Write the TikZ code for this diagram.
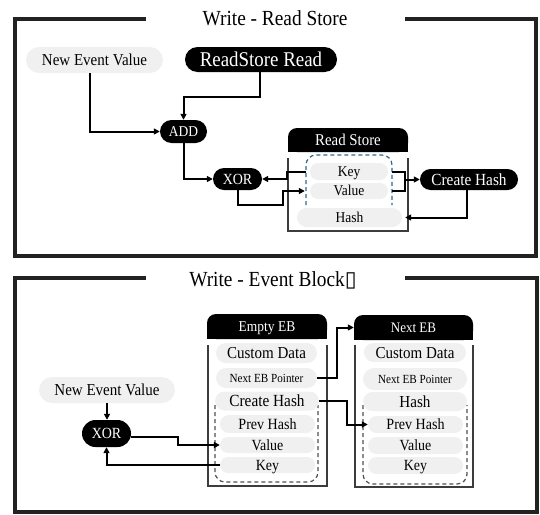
\documentclass[tikz,border=0pt]{standalone}
\usepackage{fontspec}
\setmainfont{Liberation Serif}[FakeStretch=0.9]
\newfontfamily\boxglyph{DejaVu Sans}
\usetikzlibrary{arrows.meta,calc}
\definecolor{pillgray}{RGB}{240,240,240}
\definecolor{framec}{RGB}{34,34,34}
\definecolor{dashblue}{RGB}{50,105,140}
\definecolor{dashgray}{RGB}{80,80,80}
\definecolor{bodyc}{RGB}{60,60,60}
\newcommand{\fsz}[1]{\fontsize{#1}{#1}\selectfont}
\begin{document}
\begin{tikzpicture}[x=1pt,y=-1pt,
  fs/.style={node font=\fsz{#1}},
  pill/.style={fill=pillgray, rounded corners=8pt, inner sep=0pt, text height=0.66em, text depth=0pt},
  bpill/.style={fill=black, text=white, inner sep=0pt, text height=0.66em, text depth=0pt},
  hdr/.style={inner sep=0pt, text=white, text height=0.66em, text depth=0pt},
  ttl/.style={inner sep=0pt, text height=0.66em, text depth=0pt},
  frame/.style={draw=framec, line width=4pt},
  conn/.style={draw=black, line width=2pt},
  arr/.style={conn, -{Triangle[length=6pt,width=6pt]}},
  body/.style={draw=bodyc, line width=1.5pt},
  hdrfill/.style={fill=black, rounded corners=9pt},
  dashb/.style={draw=dashblue, line width=1.2pt, dash pattern=on 4pt off 3pt, rounded corners=10pt},
  dashg/.style={draw=dashgray, line width=1.2pt, dash pattern=on 4pt off 3pt, rounded corners=10pt},
]
\useasboundingbox (0,0) rectangle (540,514);

% ---------- frames ----------
\draw[frame] (146,19) -- (15,19) -- (15,256) -- (536,256) -- (536,19) -- (405,19);
\draw[frame] (146,278) -- (15,278) -- (15,512) -- (537,512) -- (537,278) -- (405,278);
\node[fs=21.5, ttl] (t1) at (275,18) {Write - Read Store};
\node[fs=21.5, ttl] (t2) at (273,279.5) {Write - Event Block{\boxglyph ▯}};

% ---------- top section ----------
\node[fs=16.7, pill, minimum width=137pt, minimum height=26pt, rounded corners=13pt] (nev1) at (94.5,60) {New Event Value};
\node[fs=21, bpill, minimum width=152pt, minimum height=25pt, rounded corners=12.5pt] (rsr) at (261,59.5) {ReadStore Read};
\node[fs=15, bpill, minimum width=47pt, minimum height=23pt, rounded corners=11.5pt] (add) at (183.5,131.5) {ADD};
\node[fs=15.5, bpill, minimum width=49pt, minimum height=22pt, rounded corners=11pt] (xor1) at (237.5,179) {XOR};

\fill[hdrfill] (288,128) rectangle (408,152);
\fill[black] (288,141) rectangle (408,152);
\node[fs=16.5, hdr, minimum width=120pt, minimum height=24pt] (rsh) at (348,140) {Read Store};
\draw[body] (288,158) -- (288,231) -- (408,231) -- (408,158);
\draw[dashb] (306,205) -- (306,155) -- (392,155) -- (392,205);
\node[fs=15, pill, minimum width=78pt, minimum height=17pt] (key1) at (349,171.5) {Key};
\node[fs=15, pill, minimum width=78pt, minimum height=16pt] (val1) at (349,191) {Value};
\node[fs=15, pill, minimum width=105pt, minimum height=19pt, rounded corners=9.5pt] (hash1) at (349.5,217.5) {Hash};
\node[fs=17, bpill, minimum width=98pt, minimum height=21pt, rounded corners=10.5pt] (ch1) at (469,179.5) {Create Hash};

\draw[arr] ([xshift=-5pt]nev1.south) |- (add.west);
\draw[arr] ([xshift=-1pt]rsr.south) -- ++(0,25) -| (add.north);
\draw[arr] (add.south) |- (xor1.west);
\coordinate (b1) at (283,205);
\draw[arr] (xor1.south) |- (b1) |- ([xshift=-5pt]val1.west);
\draw[arr] ([xshift=-4pt]key1.west) -| ($(xor1.east)+(25,0)$) -- (xor1.east);
\coordinate (j1) at (405,179.5);
\draw[conn] ([xshift=4pt]key1.east) -| (j1) |- ([xshift=4pt]val1.east);
\draw[arr] (j1) -- (ch1.west);
\draw[arr] ([xshift=-2pt]ch1.south) |- ([xshift=3pt]hash1.east);

% ---------- bottom section ----------
\node[fs=16.7, pill, minimum width=136pt, minimum height=26pt, rounded corners=13pt] (nev2) at (107,390) {New Event Value};
\node[fs=15.5, bpill, minimum width=49pt, minimum height=27pt, rounded corners=13.5pt] (xor2) at (106.5,433.5) {XOR};

% Empty EB
\fill[hdrfill] (207,314) rectangle (327,339);
\fill[black] (207,327) rectangle (327,339);
\node[fs=15, hdr, minimum width=120pt, minimum height=25pt] (eeb) at (267,326.5) {Empty EB};
\draw[body] (208,345) -- (208,486) -- (327,486) -- (327,345);
\draw[dashg] (215,405) -- (215,482) -- (318,482) -- (318,405);
\node[fs=16.7, pill, minimum width=101pt, minimum height=20pt, rounded corners=10pt] (cd2) at (266.5,353) {Custom Data};
\node[fs=12.4, pill, minimum width=101pt, minimum height=20pt, rounded corners=10pt] (nep2) at (266.5,378) {Next EB Pointer};
\node[fs=17, pill, minimum width=104pt, minimum height=19pt, rounded corners=9.5pt] (chp2) at (267,401) {Create Hash};
\node[fs=15.6, pill, minimum width=95pt, minimum height=18pt, rounded corners=9pt] (ph2) at (267.5,424) {Prev Hash};
\node[fs=15.5, pill, minimum width=95pt, minimum height=16pt] (val2) at (267.5,445) {Value};
\node[fs=15.5, pill, minimum width=95pt, minimum height=16pt] (key2) at (267.5,465) {Key};

% Next EB
\fill[hdrfill] (354,315) rectangle (473,340);
\fill[black] (354,328) rectangle (473,340);
\node[fs=14.5, hdr, minimum width=119pt, minimum height=25pt] (neb) at (413.5,327.5) {Next EB};
\draw[body] (355,345) -- (355,487) -- (473,487) -- (473,345);
\draw[dashg] (363,405) -- (363,484) -- (467,484) -- (467,405);
\node[fs=16.7, pill, minimum width=102pt, minimum height=19pt, rounded corners=9.5pt] (cd3) at (415,352.5) {Custom Data};
\node[fs=12.4, pill, minimum width=104pt, minimum height=22pt, rounded corners=11pt] (nep3) at (415,379) {Next EB Pointer};
\node[fs=16.8, pill, minimum width=104pt, minimum height=19pt, rounded corners=9.5pt] (h3) at (415,401.5) {Hash};
\node[fs=15.6, pill, minimum width=95pt, minimum height=17pt, rounded corners=8.5pt] (ph3) at (415.5,424.5) {Prev Hash};
\node[fs=15.5, pill, minimum width=95pt, minimum height=17pt, rounded corners=8.5pt] (val3) at (415.5,445.5) {Value};
\node[fs=15.5, pill, minimum width=95pt, minimum height=17pt, rounded corners=8.5pt] (key3) at (415.5,465.5) {Key};

\draw[arr] (nev2.south) -- (nev2.south |- xor2.north);
\draw[arr] ([yshift=-3.5pt]xor2.east) -- ++(47,0) |- (val2.west);
\draw[arr] (key2.west) -| (xor2.south);
\draw[arr] (nep2.east) -- ++(20,0) |- (neb.west);
\draw[arr] (chp2.east) -- ++(28,0) |- (ph3.west);
\end{tikzpicture}
\end{document}
